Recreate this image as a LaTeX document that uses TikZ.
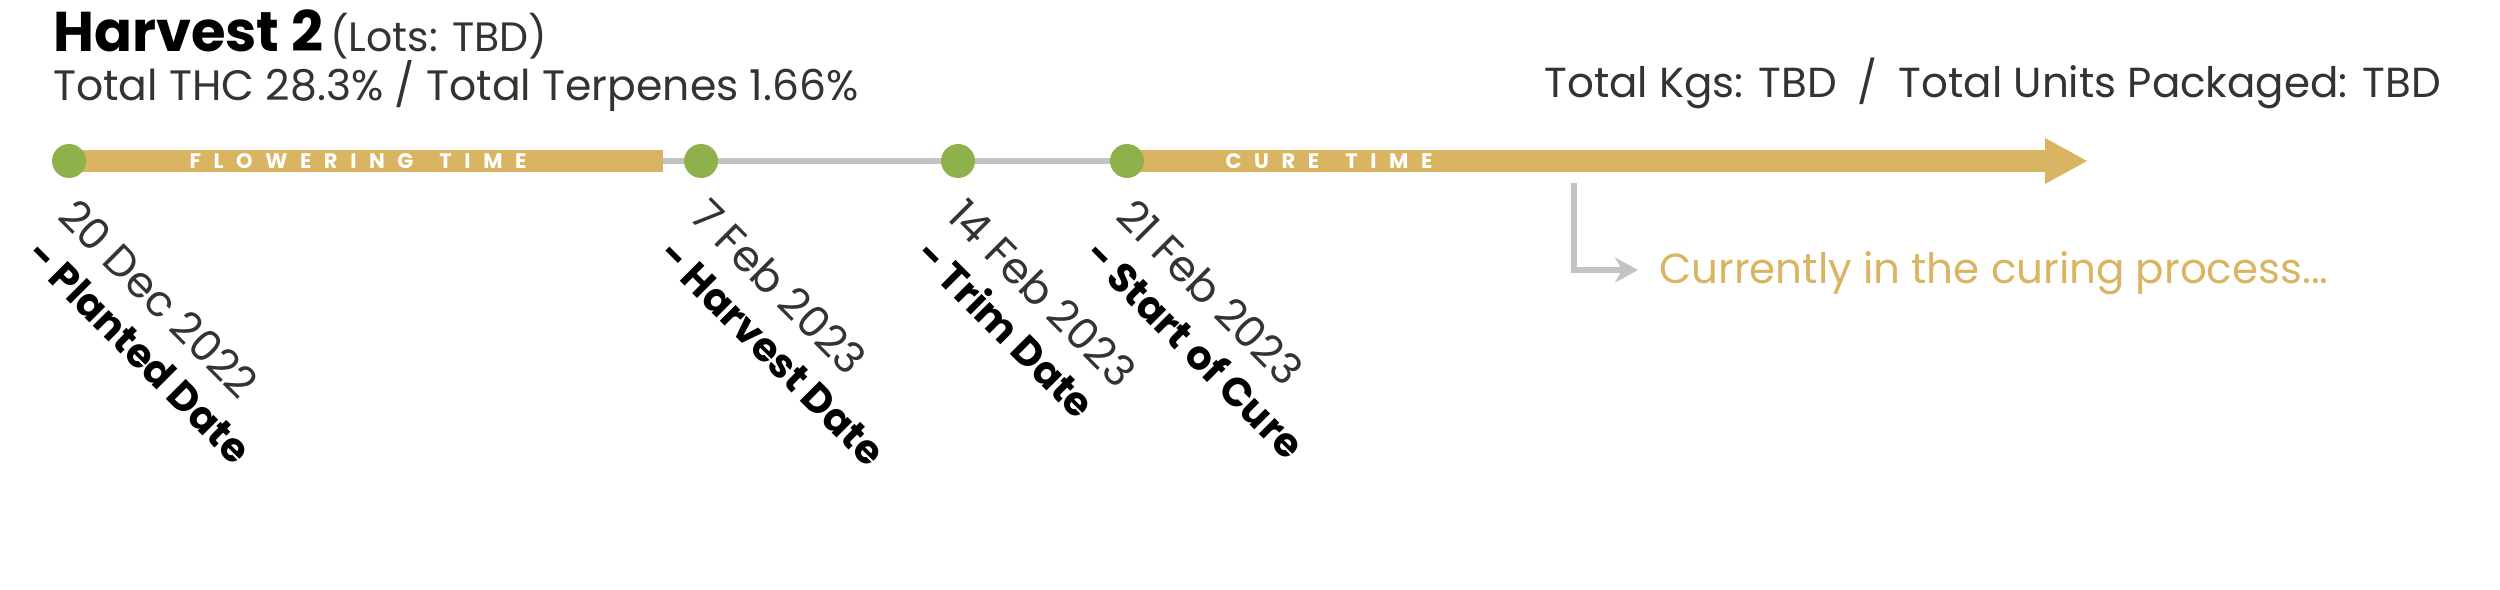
\documentclass[tikz,border=0pt]{standalone}
\usepackage{fontspec}
\setmainfont{Poppins}
\usetikzlibrary{calc,arrows.meta,backgrounds}
\definecolor{gold}{RGB}{217,181,99}
\definecolor{leaf}{RGB}{142,177,75}
\definecolor{rail}{RGB}{195,195,195}
\definecolor{ink}{RGB}{51,51,48}
\newcommand\timelabel[4]{%
  \node[datetext] (#1a) at ($(#2)+(-13,57)$) {#3};
  \node[eventtext] (#1b) at ($(#1a.base west)+(-32,39)$) {#4};}
\begin{document}
\begin{tikzpicture}[x=1pt,y=-1pt,
  dot/.style={circle,fill=leaf,minimum size=34pt,inner sep=0pt},
  datetext/.style={font=\fontsize{43}{43}\selectfont, text=ink, rotate=-45, inner sep=0pt, anchor=base west},
  eventtext/.style={font=\fontsize{40}{40}\selectfont\bfseries, text=black, rotate=-45, inner sep=0pt, anchor=base west},
  bartext/.style={font=\fontsize{21}{21}\selectfont\bfseries\addfontfeature{LetterSpace=60}, text=white, inner sep=0pt},
  plain/.style={inner sep=0pt, text=ink},
  bar/.style={gold, line width=22pt},
  railline/.style={rail, line width=6pt}]
\path[use as bounding box] (0,0) rectangle (2500,589);
% header
\node[plain, anchor=base west, text=black, font=\fontsize{56}{56}\selectfont\bfseries] (h) at (53,51) {Harvest 2};
\node[plain, anchor=base west, font=\fontsize{41}{41}\selectfont] (lots) at (330,51) {(Lots: TBD)};
\node[plain, anchor=base west, font=\fontsize{42.5}{42.5}\selectfont] (thc) at (53,100) {Total THC 28.3\% / Total Terpenes 1.66\%};
\node[plain, anchor=base east, font=\fontsize{42}{42}\selectfont] (kgs) at (2441,97) {Total Kgs: TBD\enspace/\enspace Total Units Packaged: TBD};
% timeline dots
\node[dot] (d1) at (69,161) {};
\node[dot] (d2) at (701,161) {};
\node[dot] (d3) at (958,161) {};
\node[dot] (d4) at (1127,161) {};
\coordinate (fend) at (663,161);
\coordinate (cend) at (2045,161);
\coordinate (tip) at (2087,161);
\begin{scope}[on background layer]
  \draw[railline] (fend) -- (d4.center);
  \draw[bar] (d1.center) -- (fend);
  \draw[bar] (d4.center) -- (cend);
  \fill[gold] ($(cend)+(0,-23)$) -- (tip) -- ($(cend)+(0,23)$) -- cycle;
\end{scope}
\node[bartext] (flow) at (358,161) {FLOWERING\kern 26pt TIME};
\node[bartext] (cure) at (1329,161) {CURE\kern 26pt TIME};
% labels
\timelabel{l1}{d1}{20 Dec 2022}{- Planted Date}
\timelabel{l2}{d2}{7 Feb 2023}{- Harvest Date}
\timelabel{l3}{d3}{14 Feb 2023}{- Trim Date}
\timelabel{l4}{d4}{21 Feb 2023}{- Start of Cure}
% status
\coordinate (e1) at (1574,183);
\node[plain, text=gold, anchor=base west, font=\fontsize{42}{42}\selectfont] (cur) at (1659,283) {Currently in the curing process...};
\coordinate (e2) at (1638,270);
\draw[railline, -{Stealth[length=23pt,width=25pt,inset=7pt]}] (e1) |- (e2);
\end{tikzpicture}
\end{document}
